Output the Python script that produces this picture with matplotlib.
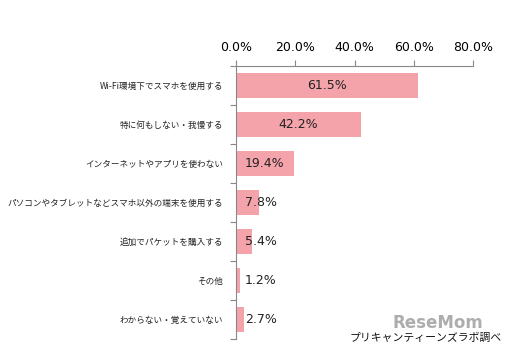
import matplotlib.pyplot as plt
from matplotlib.ticker import FuncFormatter

plt.rcParams['font.family'] = ['Noto Sans CJK JP', 'DejaVu Sans']

# survey answers, top to bottom
categories = [
    "Wi-Fi環境下でスマホを使用する",
    "特に何もしない・我慢する",
    "インターネットやアプリを使わない",
    "パソコンやタブレットなどスマホ以外の端末を使用する",
    "追加でパケットを購入する",
    "その他",
    "わからない・覚えていない",
]
values = [61.5, 42.2, 19.4, 7.8, 5.4, 1.2, 2.7]
xticks = [0, 20, 40, 60, 80]

bar_color = "#F4A3AB"

fig = plt.figure(figsize=(5.1, 3.5), dpi=100)
ax = fig.add_axes([0.4627, 0.0314, 0.4654, 0.78])

ypos = list(range(len(categories)))
ax.barh(ypos, values, height=0.64, color=bar_color, zorder=2)
ax.set_ylim(len(categories) - 0.5, -0.5)
ax.set_xlim(0, 80)

# labels: centred in big bars, just right of axis for small ones
for y, v in zip(ypos, values):
    if v > 12:
        ax.text(v / 2, y, f"{v:.1f}%", ha="center", va="center",
                fontsize=9, family="DejaVu Sans", color="#222222")
    else:
        ax.text(3, y, f"{v:.1f}%", ha="left", va="center",
                fontsize=9, family="DejaVu Sans", color="#222222")

ax.xaxis.tick_top()
ax.set_xticks(xticks)
ax.xaxis.set_major_formatter(FuncFormatter(lambda x, p: f"{x:.1f}%"))
for lab in ax.get_xticklabels():
    lab.set_family("DejaVu Sans")
    lab.set_fontsize(9)
ax.tick_params(axis="x", length=4, width=0.8, color="#888888", pad=5)

ax.set_yticks([i - 0.5 for i in range(len(categories) + 1)], minor=False)
ax.set_yticklabels([])
ax.set_yticks(ypos, minor=True)
ax.set_yticklabels(categories, minor=True, fontsize=6.2, color="#222222")
ax.tick_params(axis="y", which="major", length=4, width=0.8, color="#888888")
ax.tick_params(axis="y", which="minor", length=0, pad=9)

for s in ["right", "bottom"]:
    ax.spines[s].set_visible(False)
for s in ["top", "left"]:
    ax.spines[s].set_color("#888888")
    ax.spines[s].set_linewidth(0.8)

# watermark and source note
fig.text(0.858, 0.05, "ReseMom", ha="center", va="bottom", fontsize=12,
         fontweight="bold", color="#999999", alpha=0.8, family="DejaVu Sans")
fig.text(0.983, 0.035, "プリキャンティーンズラボ調べ", ha="right", va="center",
         fontsize=7.8, color="#111111")

fig.savefig("out.png", dpi=100)
